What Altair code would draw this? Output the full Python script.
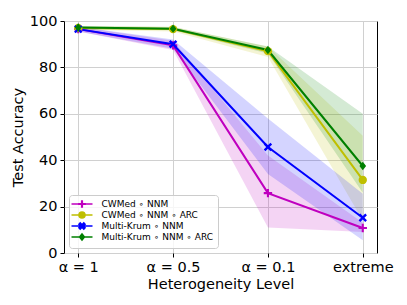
import altair as alt
import pandas as pd

levels = ["α = 1", "α = 0.5", "α = 0.1", "extreme"]
series = ["CWMed ∘ NNM", "CWMed ∘ NNM ∘ ARC", "Multi-Krum ∘ NNM", "Multi-Krum ∘ NNM ∘ ARC"]
colors = ["#bf00bf", "#bfbf00", "#0000ff", "#008000"]

cwmed_nnm = [96.5, 89.5, 25.8, 10.8]
cwmed_nnm_lo = [95.5, 87.5, 11.0, 9.0]
cwmed_nnm_hi = [97.5, 91.5, 42.0, 13.0]

cwmed_arc = [97.0, 96.5, 87.0, 31.5]
cwmed_arc_lo = [96.2, 95.5, 84.5, 14.0]
cwmed_arc_hi = [97.8, 97.5, 89.0, 50.5]

krum_nnm = [96.5, 90.0, 45.7, 15.2]
krum_nnm_lo = [95.5, 88.0, 34.0, 5.5]
krum_nnm_hi = [97.5, 92.0, 58.0, 25.5]

krum_arc = [97.2, 96.7, 87.5, 37.5]
krum_arc_lo = [96.5, 96.0, 86.0, 26.0]
krum_arc_hi = [97.8, 97.4, 89.0, 60.0]

means = [cwmed_nnm, cwmed_arc, krum_nnm, krum_arc]
los = [cwmed_nnm_lo, cwmed_arc_lo, krum_nnm_lo, krum_arc_lo]
his = [cwmed_nnm_hi, cwmed_arc_hi, krum_nnm_hi, krum_arc_hi]

# marker shapes (plot) and legend glyphs (line + marker)
plus = "M-0.25,-1L0.25,-1L0.25,-0.25L1,-0.25L1,0.25L0.25,0.25L0.25,1L-0.25,1L-0.25,0.25L-1,0.25L-1,-0.25L-0.25,-0.25Z"
xmark = "M-1,-0.6L-0.6,-1L0,-0.4L0.6,-1L1,-0.6L0.4,0L1,0.6L0.6,1L0,0.4L-0.6,1L-1,0.6L-0.4,0Z"
diamond = "M0,-1L0.8,0L0,1L-0.8,0Z"
markers = [plus, "circle", xmark, diamond]
leg_line = "M-3.5,0L3.5,0"
leg_glyphs = [
    leg_line + "M-0.1,-1L0.1,-1L0.1,-0.1L1,-0.1L1,0.1L0.1,0.1L0.1,1L-0.1,1L-0.1,0.1L-1,0.1L-1,-0.1L-0.1,-0.1Z",
    leg_line + "M-1,0A1,1 0 1,1 1,0A1,1 0 1,1 -1,0Z",
    leg_line + xmark,
    leg_line + diamond,
]

rows = []
for k, s in enumerate(series):
    for i in range(4):
        rows.append(dict(series=s, x=i, mean=means[k][i], lo=los[k][i], hi=his[k][i]))
df = pd.DataFrame(rows)

label_expr = "[" + ",".join("'%s'" % l for l in levels) + "][datum.value]"
xenc = alt.X("x:Q", scale=alt.Scale(domain=[-0.15, 3.15], nice=False, zero=False),
             axis=alt.Axis(values=[0, 1, 2, 3], labelExpr=label_expr, title="Heterogeneity Level",
                           titlePadding=4))
yaxis = alt.Axis(values=[0, 20, 40, 60, 80, 100], title="Test Accuracy", titlePadding=4)
cscale = alt.Scale(domain=series, range=colors)

legend = alt.Legend(
    title=None, orient="bottom-left", offset=5, labelFontSize=9, labelFont="DejaVu Sans",
    labelColor="black",
    symbolSize=36, symbolOffset=4, labelOffset=15, rowPadding=-2.7, padding=4.5,
    strokeColor="#cccccc", fillColor="rgba(255,255,255,0.8)", cornerRadius=3,
    symbolStrokeWidth=1.6, symbolOpacity=1,
)
color = alt.Color("series:N", scale=cscale, legend=legend)

base = alt.Chart(df)
legend_layer = base.mark_point(filled=True, opacity=0).encode(
    x=xenc,
    y=alt.Y("mean:Q", scale=alt.Scale(domain=[0, 100], nice=False), axis=yaxis),
    color=color,
    stroke=alt.Stroke("series:N", scale=cscale, legend=legend),
    shape=alt.Shape("series:N", scale=alt.Scale(domain=series, range=leg_glyphs), legend=legend),
)
bands = base.mark_area(opacity=0.17).encode(
    x=xenc, y=alt.Y("lo:Q"), y2="hi:Q", color=color,
)
lines = base.mark_line(strokeWidth=2).encode(
    x=xenc, y=alt.Y("mean:Q"), color=color,
)
point_layers = []
for k, s in enumerate(series):
    point_layers.append(
        base.transform_filter(alt.datum.series == s)
        .mark_point(filled=True, size=70, opacity=1, shape=markers[k])
        .encode(x=xenc, y=alt.Y("mean:Q"), color=color)
    )

chart = alt.layer(legend_layer, bands, lines, *point_layers).properties(
    width=313, height=232,
    autosize=alt.AutoSizeParams(type="none"),
    padding={"left": 56, "top": 13, "right": 22, "bottom": 44},
).configure_view(stroke="black", strokeWidth=1).configure_axis(
    labelFont="DejaVu Sans", titleFont="DejaVu Sans", labelFontSize=14.5, titleFontSize=14.5,
    titleFontWeight="normal", labelColor="black", titleColor="black",
    grid=True, gridColor="#d0d0d0", gridWidth=1, domain=False,
    tickColor="black", tickSize=4, tickWidth=1, labelPadding=3,
)

chart.save("out.html", embed_options={"renderer": "svg", "actions": False})
